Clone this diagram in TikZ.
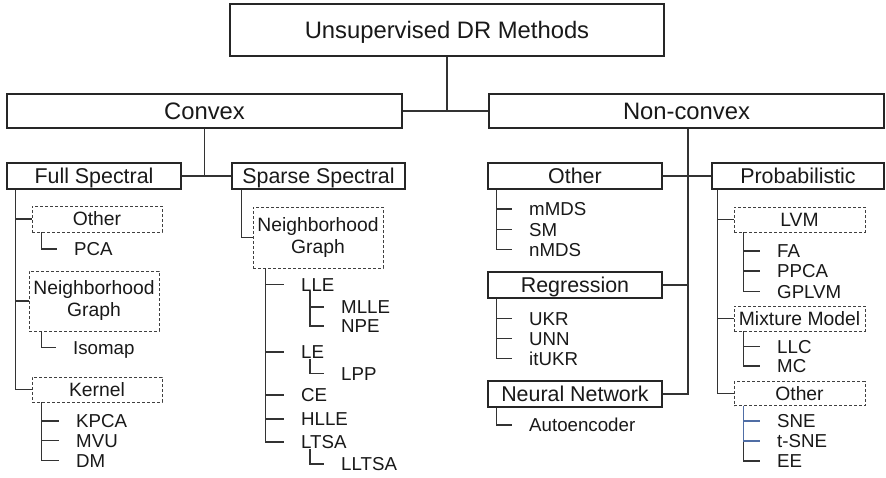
\documentclass[tikz,border=0pt]{standalone}
\usepackage{fontspec}
\setmainfont{Liberation Sans}
\begin{document}
\begin{tikzpicture}[x=1pt,y=-1pt,
  box/.style={draw=black!85, line width=1.1pt, inner sep=0pt, text=black!90},
  dbox/.style={draw=black!75, line width=0.9pt, dash pattern=on 3pt off 2pt,
    inner sep=0pt, align=center, text=black!90,
    font=\fontsize{19.3}{22}\selectfont},
  onerow/.style={text height=13.8pt, text depth=0pt},
  big/.style={font=\fontsize{23.8}{28}\selectfont, text height=17pt, text depth=0pt},
  mid/.style={font=\fontsize{21.4}{25}\selectfont, text height=15.3pt, text depth=0pt},
  leaf/.style={anchor=west, inner sep=0pt, text=black!90,
    font=\fontsize{18.7}{22}\selectfont, text height=13.4pt, text depth=0pt},
  conn/.style={draw=black!80, line width=1.1pt},
  branch/.style={conn, shorten >=17pt},
  bluebranch/.style={branch, draw={rgb,255:red,80;green,110;blue,165}}]

\useasboundingbox[fill=white] (0,0) rectangle (886,477);

% top levels
\node[box,big,minimum width=434pt,minimum height=52pt] (root) at (447,30) {Unsupervised DR Methods};
\node[box,big,minimum width=395pt,minimum height=34pt] (convex) at (204.5,111) {Convex};
\node[box,big,minimum width=395pt,minimum height=34pt] (nonconvex) at (686.5,111) {Non-convex};

% second level
\node[box,mid,minimum width=174pt,minimum height=26pt] (full) at (94,176) {Full Spectral};
\node[box,mid,minimum width=173pt,minimum height=26pt] (sparse) at (318.5,176) {Sparse Spectral};
\node[box,mid,minimum width=174pt,minimum height=26pt] (ncother) at (575,176) {Other};
\node[box,mid,minimum width=172pt,minimum height=26pt] (prob) at (798,176) {Probabilistic};
\node[box,mid,minimum width=174pt,minimum height=26pt] (regr) at (575,285) {Regression};
\node[box,mid,minimum width=174pt,minimum height=26pt] (nn) at (575,394) {Neural Network};

% dashed groups
\node[dbox,onerow,minimum width=130pt,minimum height=26pt] (fsother) at (97,219) {Other};
\node[dbox,minimum width=130pt,minimum height=60pt] (fsng) at (94,301) {Neighborhood\\Graph};
\node[dbox,onerow,minimum width=130pt,minimum height=25pt] (kernel) at (97,389.5) {Kernel};
\node[dbox,minimum width=130pt,minimum height=61pt] (ssng) at (318,237.5) {Neighborhood\\Graph};
\node[dbox,onerow,minimum width=131pt,minimum height=25pt] (lvm) at (799.5,219.5) {LVM};
\node[dbox,onerow,minimum width=131pt,minimum height=25pt] (mix) at (799.5,318.5) {Mixture Model};
\node[dbox,onerow,minimum width=131pt,minimum height=24pt] (pother) at (799.5,393.5) {Other};

% methods
\node[leaf] (pca) at (74,249) {PCA};
\node[leaf] (isomap) at (73,347.5) {Isomap};
\node[leaf] (kpca) at (76,421) {KPCA};
\node[leaf] (mvu) at (76,440.5) {MVU};
\node[leaf] (dm) at (76,460.5) {DM};

\node[leaf] (lle) at (301,284.5) {LLE};
\node[leaf] (mlle) at (341,307) {MLLE};
\node[leaf] (npe) at (341,326) {NPE};
\node[leaf] (le) at (301,352) {LE};
\node[leaf] (lpp) at (341,373.3) {LPP};
\node[leaf] (ce) at (301,395) {CE};
\node[leaf] (hlle) at (301,419) {HLLE};
\node[leaf] (ltsa) at (301,442) {LTSA};
\node[leaf] (lltsa) at (341,464) {LLTSA};

\node[leaf] (mmds) at (529,209) {mMDS};
\node[leaf] (sm) at (529,229.5) {SM};
\node[leaf] (nmds) at (529,249.5) {nMDS};
\node[leaf] (ukr) at (529,318.5) {UKR};
\node[leaf] (unn) at (529,338.5) {UNN};
\node[leaf] (itukr) at (529,358.5) {itUKR};
\node[leaf] (autoenc) at (529,425) {Autoencoder};

\node[leaf] (fa) at (777,251) {FA};
\node[leaf] (ppca) at (777,271) {PPCA};
\node[leaf] (gplvm) at (777,291.5) {GPLVM};
\node[leaf] (llc) at (777,346.5) {LLC};
\node[leaf] (mc) at (777,366) {MC};
\node[leaf] (sne) at (777,421) {SNE};
\node[leaf] (tsne) at (777,441) {t-SNE};
\node[leaf] (ee) at (777,461) {EE};

% upper connectors
\coordinate (ncbus) at ([xshift=1.5pt]nonconvex.south);
\draw[conn] (root.south) -- (root.south |- convex.east);
\draw[conn] (convex.east) -- (nonconvex.west);
\draw[conn] (convex.south) -- (convex.south |- full.east);
\draw[conn] (full.east) -- (sparse.west);
\draw[conn] (ncbus) |- (nn.east);
\draw[conn] (ncother.east) -- (prob.west);
\draw[conn] (regr.east) -- (regr.east -| ncbus);

% full spectral
\foreach \g in {fsother,fsng,kernel}
  \draw[conn] ([xshift=9pt]full.south west) |- (\g.west);
\draw[branch] ([xshift=10pt]fsother.south west) |- (pca.west);
\draw[branch] ([xshift=13pt]fsng.south west) |- (isomap.west);
\foreach \l in {kpca,mvu,dm}
  \draw[branch] ([xshift=10pt]kernel.south west) |- (\l.west);

% sparse spectral
\draw[conn] ([xshift=10pt]sparse.south west) |- (ssng.west);
\foreach \l in {lle,le,ce,hlle,ltsa}
  \draw[branch] ([xshift=13pt]ssng.south west) |- (\l.west);
\foreach \l in {mlle,npe}
  \draw[branch] ([xshift=9pt]lle.south west) |- (\l.west);
\draw[branch] ([xshift=9pt]le.south west) |- (lpp.west);
\draw[branch] ([xshift=9pt]ltsa.south west) |- (lltsa.west);

% non-convex groups
\foreach \l in {mmds,sm,nmds}
  \draw[branch] ([xshift=9pt]ncother.south west) |- (\l.west);
\foreach \l in {ukr,unn,itukr}
  \draw[branch] ([xshift=9pt]regr.south west) |- (\l.west);
\draw[branch] ([xshift=9pt]nn.south west) |- (autoenc.west);

% probabilistic
\foreach \g in {lvm,mix,pother}
  \draw[conn] ([xshift=6pt]prob.south west) |- (\g.west);
\foreach \l in {fa,ppca,gplvm}
  \draw[branch] ([xshift=10pt]lvm.south west) |- (\l.west);
\foreach \l in {llc,mc}
  \draw[branch] ([xshift=10pt]mix.south west) |- (\l.west);
\draw[branch] ([xshift=10pt]pother.south west) |- (ee.west);
\foreach \l in {sne,tsne}
  \draw[bluebranch] ([xshift=10pt]pother.south west) |- (\l.west);
\end{tikzpicture}
\end{document}
